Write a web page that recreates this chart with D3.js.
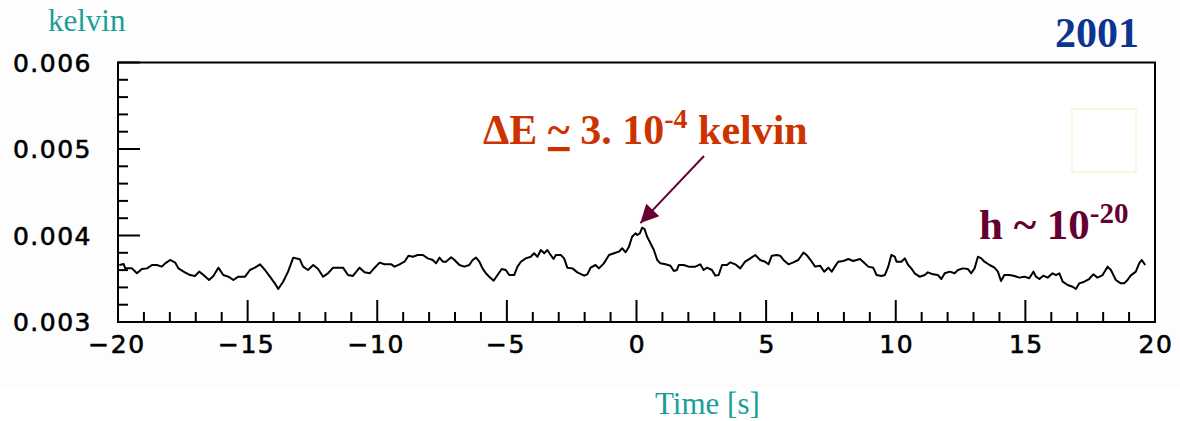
<!DOCTYPE html>
<html>
<head>
<meta charset="utf-8">
<script src="https://cdn.jsdelivr.net/npm/d3@7"></script>
<style>
  html, body { margin: 0; padding: 0; background: #ffffff; overflow: hidden; }
  svg { display: block; }
</style>
</head>
<body>
<svg id="chart" width="1180" height="421"></svg>
<script>
// ---- data (time in s, temperature in kelvin) ----
const times = [
  -19.95,-19.78,-19.72,-19.46,-19.27,-19.08,-18.88,-18.69,-18.50,-18.31,-18.18,-17.99,-17.79,-17.67,-17.47,-17.22,-17.03,-16.87,-16.70,-16.49,
  -16.32,-16.13,-15.94,-15.74,-15.55,-15.36,-15.10,-14.91,-14.72,-14.52,-14.33,-14.14,-13.95,-13.82,-13.63,-13.44,-13.24,-12.99,-12.86,-12.67,
  -12.47,-12.28,-12.09,-11.90,-11.70,-11.32,-11.13,-10.94,-10.68,-10.49,-10.29,-10.10,
  -9.91,-9.72,-9.46,-9.33,-9.14,-8.95,-8.79,-8.63,-8.44,-8.24,-8.05,-7.86,-7.73,-7.60,-7.47,-7.35,-7.15,-7.02,-6.83,-6.64,
  -6.45,-6.32,-6.19,-6.06,-5.94,-5.81,-5.68,-5.51,-5.36,-5.20,-5.04,-4.91,-4.72,-4.59,-4.46,-4.27,-4.08,-3.95,-3.82,-3.69,
  -3.56,-3.44,-3.31,-3.20,-3.11,-2.92,-2.79,-2.67,-2.47,-2.28,-2.02,-1.90,-1.77,-1.58,-1.45,-1.26,-1.06,-0.87,-0.68,-0.55,
  -0.42,-0.29,-0.17,-0.04,
  0.03,0.13,0.22,0.31,0.41,0.54,0.67,0.80,0.92,1.12,1.31,1.44,1.56,1.63,1.82,2.01,2.27,2.46,2.59,2.72,
  2.91,3.04,3.17,3.30,3.49,3.62,3.81,4.00,4.19,4.39,4.58,4.77,4.96,5.09,5.22,5.41,5.54,5.67,5.86,6.05,
  6.24,6.44,6.56,6.76,6.89,7.08,7.24,7.40,7.53,7.65,7.78,7.98,8.17,8.36,8.62,8.74,8.94,9.13,9.26,9.45,
  9.58,9.71,9.83,9.96,
  10.03,10.22,10.35,10.48,10.60,10.73,10.92,11.12,11.24,11.44,11.63,11.76,11.89,12.08,12.27,12.40,12.59,12.78,12.91,13.04,
  13.17,13.30,13.42,13.62,13.81,13.94,14.06,14.19,14.39,14.58,14.77,14.96,15.15,15.31,15.41,15.54,15.69,15.86,16.05,16.18,
  16.31,16.44,16.63,16.82,16.95,17.08,17.27,17.46,17.62,17.78,17.98,18.17,18.30,18.49,18.68,18.81,18.94,19.06,19.26,19.39,
  19.49,19.62
];
const temperature = [
  0.003659,0.003670,0.003620,0.003620,0.003563,0.003613,0.003620,0.003659,0.003659,0.003640,0.003678,0.003717,0.003686,0.003620,0.003582,0.003543,0.003532,0.003582,0.003543,0.003486,
  0.003532,0.003628,0.003543,0.003524,0.003486,0.003524,0.003524,0.003601,0.003628,0.003667,0.003601,0.003524,0.003447,0.003382,0.003466,0.003582,0.003744,0.003725,0.003640,0.003601,
  0.003659,0.003613,0.003524,0.003563,0.003628,0.003628,0.003543,0.003532,0.003628,0.003574,0.003563,0.003628,
  0.003686,0.003667,0.003667,0.003640,0.003667,0.003697,0.003767,0.003755,0.003775,0.003775,0.003736,0.003717,0.003678,0.003744,0.003697,0.003697,0.003748,0.003717,0.003659,0.003640,
  0.003659,0.003717,0.003744,0.003697,0.003620,0.003563,0.003524,0.003478,0.003543,0.003613,0.003601,0.003543,0.003543,0.003640,0.003697,0.003736,0.003755,0.003794,0.003755,0.003832,
  0.003794,0.003832,0.003775,0.003728,0.003775,0.003775,0.003736,0.003628,0.003620,0.003574,0.003536,0.003551,0.003628,0.003659,0.003620,0.003678,0.003775,0.003794,0.003813,0.003852,
  0.003806,0.003871,0.003986,0.004025,
  0.004006,0.004025,0.004090,0.004075,0.003986,0.003910,0.003832,0.003717,0.003678,0.003667,0.003651,0.003590,0.003601,0.003659,0.003659,0.003640,0.003640,0.003667,0.003601,0.003628,
  0.003601,0.003536,0.003543,0.003659,0.003659,0.003690,0.003667,0.003620,0.003697,0.003736,0.003775,0.003717,0.003697,0.003667,0.003767,0.003775,0.003767,0.003717,0.003667,0.003690,
  0.003717,0.003802,0.003775,0.003697,0.003640,0.003651,0.003582,0.003628,0.003582,0.003640,0.003697,0.003705,0.003728,0.003705,0.003728,0.003697,0.003640,0.003628,0.003543,0.003532,
  0.003543,0.003640,0.003775,0.003755,
  0.003697,0.003697,0.003736,0.003659,0.003620,0.003563,0.003524,0.003543,0.003574,0.003551,0.003543,0.003497,0.003563,0.003582,0.003563,0.003601,0.003620,0.003613,0.003563,0.003620,
  0.003755,0.003736,0.003697,0.003659,0.003628,0.003582,0.003474,0.003543,0.003543,0.003532,0.003513,0.003524,0.003505,0.003582,0.003524,0.003497,0.003536,0.003513,0.003563,0.003543,
  0.003563,0.003466,0.003428,0.003408,0.003382,0.003447,0.003466,0.003497,0.003551,0.003513,0.003543,0.003640,0.003601,0.003486,0.003447,0.003447,0.003486,0.003536,0.003582,0.003678,
  0.003717,0.003659
];
const xTickValues = [-20, -15, -10, -5, 0, 5, 10, 15, 20];
const yTickValues = [0.003, 0.004, 0.005, 0.006];
const xDomain = [-20, 20];
const yDomain = [0.003, 0.006];
const yUnitLabel = "kelvin";
const xAxisTitle = "Time [s]";
const yearLabel = "2001";
const annotationPeak = { t: 0.15, v: 0.00412 };

// ---- layout ----
const svg = d3.select("#chart");
const W = 1180, H = 421;
const mLeft = 118, mRight = 1155, mTop = 62.5, mBottom = 322;

svg.append("rect").attr("x", 0).attr("y", 0).attr("width", W).attr("height", 388).attr("fill", "#fdfdfd");

const x = d3.scaleLinear().domain(xDomain).range([mLeft, mRight]);
const y = d3.scaleLinear().domain(yDomain).range([mBottom, mTop]);

const tickFont = "'DejaVu Sans', Verdana, sans-serif";

// frame
svg.append("rect")
  .attr("x", mLeft).attr("y", mTop)
  .attr("width", mRight - mLeft).attr("height", mBottom - mTop)
  .attr("fill", "#ffffff").attr("stroke", "#000").attr("stroke-width", 2);

// x ticks
const xMinor = d3.range(xDomain[0], xDomain[1] + 0.001, 1);
svg.append("g").selectAll("line").data(xMinor).join("line")
  .attr("x1", d => x(d)).attr("x2", d => x(d))
  .attr("y1", mBottom)
  .attr("y2", d => (Math.abs(d % 5) < 1e-9 ? mBottom - 22 : mBottom - 10))
  .attr("stroke", "#000").attr("stroke-width", 2);

// y ticks
const yMinor = d3.range(0, 16).map(i => yDomain[0] + i * 0.0002);
svg.append("g").selectAll("line").data(yMinor).join("line")
  .attr("y1", d => y(d)).attr("y2", d => y(d))
  .attr("x1", mLeft)
  .attr("x2", (d, i) => (i % 5 === 0 ? mLeft + 22 : mLeft + 10))
  .attr("stroke", "#000").attr("stroke-width", 2);

// x tick labels
svg.append("g").selectAll("text").data(xTickValues).join("text")
  .attr("x", d => x(d) + (d < 0 ? -1 : 1))
  .attr("y", 353)
  .attr("text-anchor", "middle")
  .attr("font-family", tickFont).attr("font-size", 25)
  .attr("letter-spacing", 1.5)
  .attr("fill", "#000").attr("stroke", "#000").attr("stroke-width", 0.6)
  .text(d => d < 0 ? "\u2212" + Math.abs(d) : String(d));

// y tick labels
svg.append("g").selectAll("text").data(yTickValues).join("text")
  .attr("x", mLeft - 26)
  .attr("y", d => y(d) + 9)
  .attr("text-anchor", "end")
  .attr("font-family", tickFont).attr("font-size", 25)
  .attr("letter-spacing", 1.5)
  .attr("fill", "#000").attr("stroke", "#000").attr("stroke-width", 0.6)
  .text(d => d3.format(".3f")(d));

// the line
const data = times.map((t, i) => [t, temperature[i]]);
svg.append("path")
  .datum(data)
  .attr("fill", "none")
  .attr("stroke", "#000")
  .attr("stroke-width", 2)
  .attr("stroke-linejoin", "round")
  .attr("d", d3.line().x(d => x(d[0])).y(d => y(d[1])));

// pale yellow legend box
svg.append("rect")
  .attr("x", 1072).attr("y", 109).attr("width", 64).attr("height", 63)
  .attr("fill", "none").attr("stroke", "#f6f3c0").attr("stroke-width", 1.2);

// texts
const serif = "'Liberation Serif', 'Times New Roman', serif";
svg.append("text").attr("x", 48).attr("y", 31)
  .attr("font-family", serif).attr("font-size", 31).attr("fill", "#1a9e98")
  .text(yUnitLabel);

svg.append("text").attr("x", 655).attr("y", 414)
  .attr("font-family", serif).attr("font-size", 31).attr("fill", "#1a9e98")
  .text(xAxisTitle);

svg.append("text").attr("x", 1139).attr("y", 47).attr("text-anchor", "end")
  .attr("font-family", serif).attr("font-weight", "bold").attr("font-size", 42).attr("fill", "#0a3590")
  .text(yearLabel);

// ΔE annotation
const t1 = svg.append("text").attr("x", 483).attr("y", 144)
  .attr("font-family", serif).attr("font-weight", "bold").attr("font-size", 42).attr("fill", "#cc3300");
t1.append("tspan").text("\u0394E ");
t1.append("tspan").style("text-decoration", "underline").text("~");
t1.append("tspan").text(" 3. 10");
t1.append("tspan").attr("dy", -16).attr("font-size", 28).text("-4");
t1.append("tspan").attr("dy", 16).text(" kelvin");

// h annotation
const t2 = svg.append("text").attr("x", 979).attr("y", 239)
  .attr("font-family", serif).attr("font-weight", "bold").attr("font-size", 43).attr("fill", "#660033");
t2.append("tspan").text("h ~ 10");
t2.append("tspan").attr("dy", -16).attr("font-size", 29).text("-20");

// arrow
const defs = svg.append("defs");
defs.append("marker").attr("id", "ah")
  .attr("viewBox", "0 0 10 10").attr("refX", 10).attr("refY", 5)
  .attr("markerWidth", 22).attr("markerHeight", 18)
  .attr("markerUnits", "userSpaceOnUse")
  .attr("orient", "auto")
  .append("path").attr("d", "M0,0 L10,5 L0,10 z").attr("fill", "#660033");
svg.append("line")
  .attr("x1", 704).attr("y1", 156)
  .attr("x2", x(annotationPeak.t)).attr("y2", y(annotationPeak.v) - 2)
  .attr("stroke", "#660033").attr("stroke-width", 2)
  .attr("marker-end", "url(#ah)");
</script>
</body>
</html>
